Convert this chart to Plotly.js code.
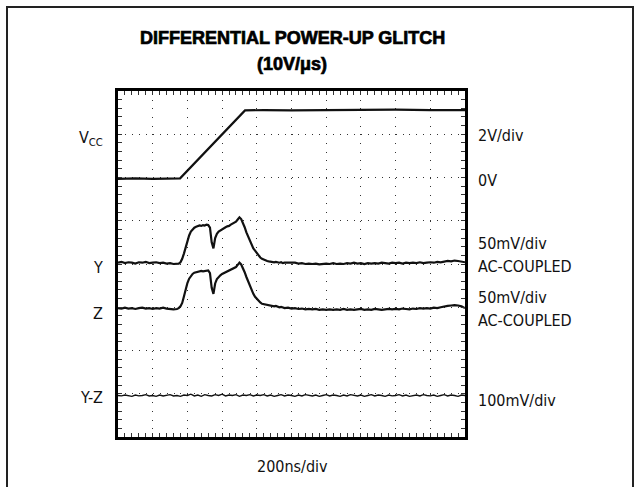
<!DOCTYPE html>
<html>
<head>
<meta charset="utf-8">
<script src="https://cdn.plot.ly/plotly-3.0.1.min.js"></script>
<style>
html,body{margin:0;padding:0;background:#fff;overflow:hidden;}
#wrap{position:relative;width:638px;height:487px;overflow:hidden;}
#chart{position:absolute;left:0;top:0;width:638px;height:487px;}
#frame{position:absolute;left:6px;top:6px;width:624px;height:520px;border:2px solid #222;pointer-events:none;}
#chart g.annotation[data-index="0"] text,
#chart g.annotation[data-index="1"] text{stroke:#000;stroke-width:0.7px;}
</style>
</head>
<body>
<div id="wrap">
<div id="chart"></div>
<div id="frame"></div>
</div>
<script>
// Time axis in divisions (200ns/div), vertical position in screen divisions
const tVcc = [0, 0.5, 1.0, 1.5, 1.79, 3.66, 4.2, 5.0, 6.0, 7.0, 8.0, 9.0, 10.0];
const vcc  = [5.97, 5.98, 5.97, 5.97, 5.98, 7.55, 7.56, 7.55, 7.56, 7.56, 7.57, 7.56, 7.56];

const tYZ = [
  0,0.1,0.2,0.3,0.4,0.5,0.6,0.7,0.8,0.9,1.0,1.1,1.2,1.3,1.4,1.5,1.6,
  1.70,1.75,1.80,1.85,1.90,1.95,2.00,2.05,2.10,2.15,2.20,2.25,2.30,2.35,2.40,2.45,2.50,2.55,2.60,2.65,2.70,2.75,2.80,2.85,2.90,2.95,
  3.00,3.05,3.10,3.15,3.20,3.25,3.30,3.35,3.40,3.45,3.50,3.55,3.60,3.65,3.70,3.75,3.80,3.85,3.90,3.95,
  4.00,4.05,4.10,4.15,4.20,4.25,4.30,4.35,4.40,4.45,4.50,4.55,4.60,4.65,4.70,4.75,4.80,
  4.9,5.0,5.1,5.2,5.3,5.4,5.5,5.6,5.7,5.8,5.9,6.0,6.1,6.2,6.3,6.4,6.5,6.6,6.7,6.8,6.9,
  7.0,7.1,7.2,7.3,7.4,7.5,7.6,7.7,7.8,7.9,8.0,8.1,8.2,8.3,8.4,8.5,8.6,8.7,8.8,8.9,
  9.0,9.1,9.2,9.3,9.4,9.5,9.6,9.7,9.8,9.9,10.0
];
const yOut = [
  4.03,4.05,4.02,4.04,4.03,4.01,4.04,4.03,4.05,4.02,4.03,4.04,4.02,4.03,4.01,4.02,4.00,
  4.00,4.01,4.04,4.12,4.24,4.38,4.54,4.66,4.75,4.81,4.84,4.86,4.87,4.89,4.88,4.90,4.89,4.91,4.90,4.84,4.50,4.36,4.60,4.70,4.75,4.78,
  4.81,4.83,4.85,4.87,4.88,4.91,4.93,4.95,4.98,5.03,5.08,5.04,4.96,4.85,4.73,4.63,4.53,4.44,4.36,4.31,
  4.25,4.20,4.15,4.12,4.10,4.08,4.07,4.06,4.05,4.05,4.04,4.05,4.04,4.03,4.04,4.02,4.03,
  4.03,4.02,4.03,4.01,4.02,4.00,4.01,4.00,4.01,3.99,4.00,4.01,4.00,4.02,4.00,4.01,4.00,4.02,4.01,4.03,4.01,
  4.02,4.00,4.02,4.01,4.02,4.01,4.03,4.02,4.01,4.03,4.02,4.03,4.01,4.03,4.02,4.03,4.02,4.04,4.02,4.03,
  4.04,4.03,4.05,4.04,4.06,4.07,4.06,4.08,4.07,4.06,4.04
];
const zOut = [
  2.98,2.97,2.99,2.97,2.98,2.96,2.98,2.99,2.97,2.98,2.96,2.98,2.97,2.99,2.97,2.96,2.95,
  2.96,2.98,3.02,3.10,3.25,3.42,3.56,3.66,3.73,3.77,3.80,3.81,3.82,3.82,3.84,3.83,3.84,3.85,3.85,3.79,3.45,3.31,3.55,3.65,3.71,3.74,
  3.77,3.79,3.80,3.82,3.84,3.86,3.88,3.90,3.93,3.98,4.03,3.99,3.91,3.81,3.70,3.59,3.48,3.39,3.31,3.24,
  3.19,3.15,3.11,3.08,3.07,3.06,3.05,3.04,3.04,3.03,3.02,3.03,3.01,3.00,3.01,2.99,2.98,
  2.99,2.97,2.98,2.96,2.97,2.95,2.96,2.95,2.96,2.94,2.95,2.94,2.95,2.94,2.95,2.94,2.96,2.94,2.95,2.94,2.95,
  2.96,2.94,2.95,2.94,2.96,2.95,2.94,2.95,2.96,2.95,2.96,2.95,2.97,2.96,2.95,2.97,2.96,2.98,2.97,2.98,
  2.97,2.99,2.98,3.00,3.02,3.03,3.04,3.05,3.04,3.02,2.98
];

const tDiff = [
  0,0.1,0.2,0.3,0.4,0.5,0.6,0.7,0.8,0.9,
  1.0,1.1,1.2,1.3,1.4,1.5,1.6,1.7,1.8,1.9,
  2.0,2.1,2.2,2.3,2.4,2.5,2.6,2.7,2.8,2.9,
  3.0,3.1,3.2,3.3,3.4,3.5,3.6,3.7,3.8,3.9,
  4.0,4.1,4.2,4.3,4.4,4.5,4.6,4.7,4.8,4.9,
  5.0,5.1,5.2,5.3,5.4,5.5,5.6,5.7,5.8,5.9,
  6.0,6.1,6.2,6.3,6.4,6.5,6.6,6.7,6.8,6.9,
  7.0,7.1,7.2,7.3,7.4,7.5,7.6,7.7,7.8,7.9,
  8.0,8.1,8.2,8.3,8.4,8.5,8.6,8.7,8.8,8.9,
  9.0,9.1,9.2,9.3,9.4,9.5,9.6,9.7,9.8,9.9,
  10.0
];
const diffOut = [
  0.96,0.95,0.97,0.96,0.94,0.97,0.95,0.96,0.98,0.95,
  0.96,0.94,0.97,0.95,0.96,0.98,0.95,0.96,0.94,0.97,
  0.96,0.99,0.95,0.97,0.94,0.98,0.96,0.95,0.98,0.96,
  0.99,0.95,0.97,0.96,0.98,0.94,0.97,0.96,0.98,0.95,
  0.97,0.96,0.98,0.95,0.97,0.94,0.96,0.98,0.95,0.97,
  0.96,0.94,0.97,0.95,0.98,0.96,0.95,0.97,0.94,0.96,
  0.98,0.95,0.97,0.96,0.94,0.97,0.95,0.98,0.96,0.95,
  0.97,0.94,0.96,0.98,0.95,0.97,0.96,0.94,0.97,0.95,
  0.96,0.98,0.95,0.97,0.94,0.96,0.97,0.95,0.98,0.96,
  0.95,0.97,0.94,0.96,0.98,0.95,0.97,0.96,0.94,0.97,
  0.96
];

const titleLines  = ["DIFFERENTIAL POWER-UP GLITCH", "(10V/μs)"];
const leftLabels  = ["V<sub>CC</sub>", "Y", "Z", "Y-Z"];
const rightLabels = ["2V/div", "0V", "50mV/div", "AC-COUPLED", "50mV/div", "AC-COUPLED", "100mV/div"];
const xLabel = "200ns/div";

const lineCol = "#111";
const traces = [
  {x: tVcc, y: vcc, mode: "lines", line: {color: lineCol, width: 2.2}, hoverinfo: "skip"},
  {x: tYZ, y: yOut, mode: "lines", line: {color: lineCol, width: 2.2}, hoverinfo: "skip"},
  {x: tYZ, y: zOut, mode: "lines", line: {color: lineCol, width: 2.2}, hoverinfo: "skip"},
  {x: tDiff, y: diffOut, mode: "lines", line: {color: lineCol, width: 1.4}, hoverinfo: "skip"}
];

const L = 118, R = 465, T = 91, B = 437;
const px2x = p => (p - L) / (R - L);
const px2y = p => (B - p) / (B - T);

const lblFont = {family: "Liberation Sans Narrow, Arial Narrow, DejaVu Sans Condensed, sans-serif", size: 16, color: "#111"};
const titleFont = {family: "Liberation Sans, Arial, sans-serif", size: 18, color: "#000", weight: "bold"};
const leftPy  = [138, 267, 313, 397];
const rightPy = [135, 180, 243, 266, 297, 320, 400];
const titlePy = [38, 64];

const annotations = [];
titleLines.forEach((t, i) => annotations.push({
  text: t, x: px2x(292), y: px2y(titlePy[i]), xref: "paper", yref: "paper",
  xanchor: "center", yanchor: "middle", showarrow: false, font: titleFont
}));
leftLabels.forEach((t, i) => annotations.push({
  text: t, x: px2x(105), y: px2y(leftPy[i]), xref: "paper", yref: "paper",
  xanchor: "right", yanchor: "middle", showarrow: false, font: lblFont
}));
rightLabels.forEach((t, i) => annotations.push({
  text: t, x: px2x(476), y: px2y(rightPy[i]), xref: "paper", yref: "paper",
  xanchor: "left", yanchor: "middle", showarrow: false, font: lblFont
}));
annotations.push({
  text: xLabel, x: px2x(292), y: px2y(467), xref: "paper", yref: "paper",
  xanchor: "center", yanchor: "middle", showarrow: false, font: lblFont
});

const layout = {
  width: 638, height: 487,
  margin: {l: L, r: 638 - R, t: T, b: 487 - B, pad: 0},
  paper_bgcolor: "rgba(0,0,0,0)", plot_bgcolor: "#fff",
  showlegend: false,
  xaxis: {
    range: [0, 10], dtick: 1, tick0: 0, showticklabels: false,
    showgrid: true, gridcolor: "#333", gridwidth: 1, griddash: "1px,7.65px",
    zeroline: false, showline: true, linecolor: "#000", linewidth: 3, mirror: "allticks",
    ticks: "inside", ticklen: 4, tickcolor: "#333", tickwidth: 1,
    minor: {dtick: 0.2, ticks: "inside", ticklen: 4, tickcolor: "#333", tickwidth: 1, showgrid: false},
    fixedrange: true
  },
  yaxis: {
    range: [0, 8], dtick: 1, tick0: 0, showticklabels: false,
    showgrid: true, gridcolor: "#333", gridwidth: 1, griddash: "1px,5.94px",
    zeroline: false, showline: true, linecolor: "#000", linewidth: 3, mirror: "allticks",
    ticks: "inside", ticklen: 4, tickcolor: "#333", tickwidth: 1,
    minor: {dtick: 0.2, ticks: "inside", ticklen: 4, tickcolor: "#333", tickwidth: 1, showgrid: false},
    fixedrange: true
  },
  annotations: annotations
};

Plotly.newPlot("chart", traces, layout, {displayModeBar: false, staticPlot: true});
</script>
</body>
</html>
